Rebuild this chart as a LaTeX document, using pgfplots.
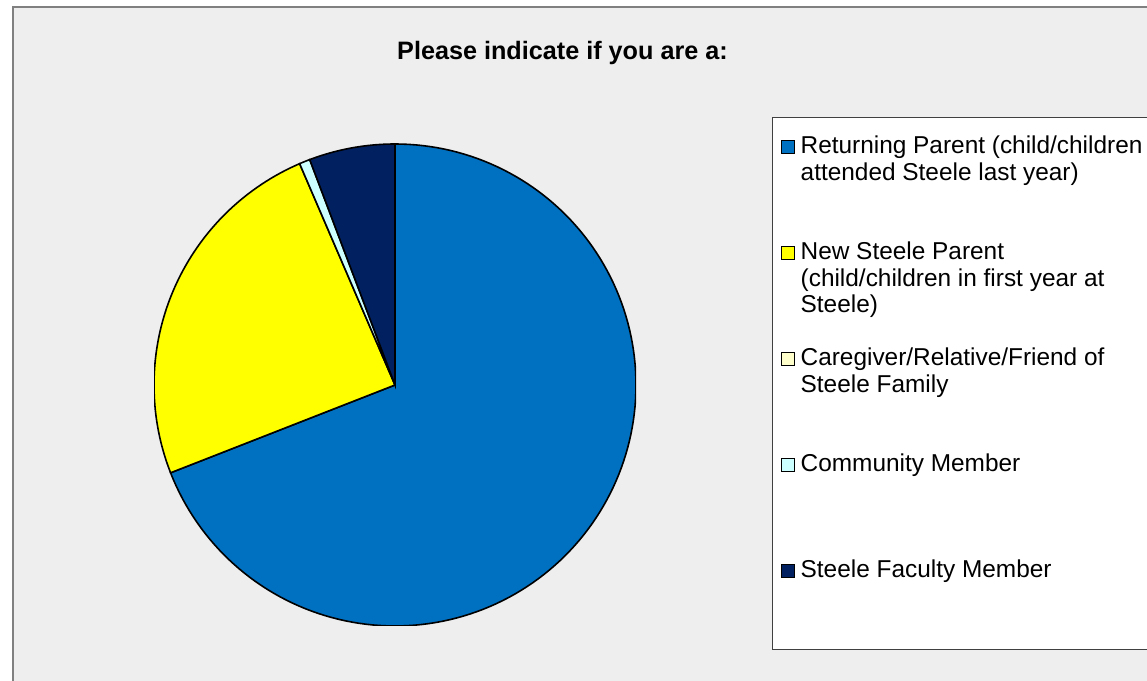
\documentclass[border=0pt]{standalone}
\usepackage{pgfplots}
\pgfplotsset{compat=1.18}
\usepackage{pgfplotstable}
\usepackage{fontspec}
\setmainfont{Liberation Sans}
\definecolor{cRet}{RGB}{0,112,192}
\definecolor{cNew}{RGB}{255,255,0}
\definecolor{cCare}{RGB}{255,255,204}
\definecolor{cComm}{RGB}{204,255,255}
\definecolor{cFac}{RGB}{0,32,96}
\definecolor{bgc}{RGB}{238,238,238}
\definecolor{framec}{RGB}{128,128,128}

\pgfplotstableread{
cat count
1 96
2 34
3 0
4 1
5 8
}\piedata

\newcommand\legtext[1]{\parbox[t]{285pt}{\strut #1}}

\begin{document}
\begin{tikzpicture}[x=0.75pt,y=0.75pt]
\useasboundingbox (0,0) rectangle (1147,681);
\fill[white] (0,0) rectangle (1147,681);
\filldraw[fill=bgc, draw=framec, line width=1.5pt] (13,674) rectangle (1200,-20);
\node[font=\fontsize{18.9}{22}\selectfont\bfseries, anchor=base, inner sep=0pt] at (562.5,621) {Please indicate if you are a:};
\pgfplotstablegetelem{0}{count}\of\piedata \edef\cA{\pgfplotsretval}
\pgfplotstablegetelem{1}{count}\of\piedata \edef\cB{\pgfplotsretval}
\pgfplotstablegetelem{2}{count}\of\piedata \edef\cC{\pgfplotsretval}
\pgfplotstablegetelem{3}{count}\of\piedata \edef\cD{\pgfplotsretval}
\pgfplotstablegetelem{4}{count}\of\piedata \edef\cE{\pgfplotsretval}
\pgfmathsetmacro\tot{\cA+\cB+\cC+\cD+\cE}
\pgfmathsetmacro\aA{90}
\pgfmathsetmacro\aB{\aA-360*(\cA/\tot)}
\pgfmathsetmacro\aC{\aB-360*(\cB/\tot)}
\pgfmathsetmacro\aD{\aC-360*(\cC/\tot)}
\pgfmathsetmacro\aE{\aD-360*(\cD/\tot)}
\pgfmathsetmacro\aF{\aE-360*(\cE/\tot)}
\begin{axis}[
  at={(296.25pt,222pt)}, anchor=center,
  scale only axis, width=361.5pt, height=361.5pt,
  hide axis, xmin=-1, xmax=1, ymin=-1, ymax=1,
  legend image code/.code={\path (0pt,-2.3pt); \draw[#1, draw=black, line width=0.7pt] (0.4pt,0.3pt) rectangle (9.9pt,9.8pt);},
  legend style={at={(1.2822,1.056)}, anchor=north west, draw=black!75, line width=0.75pt, fill=white,
    inner xsep=6pt, inner ysep=13pt, row sep=0pt, column sep=4.5pt,
    font=\fontsize{18.3}{20}\selectfont,
    nodes={inner sep=0pt, anchor=base west},
    cells={anchor=base west}},
]
\addplot[fill=cRet, draw=black, line width=1.2pt, domain=\aB:\aA, samples=150, forget plot] ({cos(x)},{sin(x)}) -- (0,0) -- cycle;
\addplot[fill=cNew, draw=black, line width=1.2pt, domain=\aC:\aB, samples=80, forget plot] ({cos(x)},{sin(x)}) -- (0,0) -- cycle;
\addplot[fill=cComm, draw=black, line width=1.2pt, domain=\aE:\aD, samples=10, forget plot] ({cos(x)},{sin(x)}) -- (0,0) -- cycle;
\addplot[fill=cFac, draw=black, line width=1.2pt, domain=\aF:\aE, samples=30, forget plot] ({cos(x)},{sin(x)}) -- (0,0) -- cycle;
\addlegendimage{fill=cRet}
\addlegendentry[text depth=65.5pt]{\legtext{Returning Parent (child/children\\attended Steele last year)}}
\addlegendimage{fill=cNew}
\addlegendentry[text depth=65.5pt]{\legtext{New Steele Parent\\(child/children in first year at\\Steele)}}
\addlegendimage{fill=cCare}
\addlegendentry[text depth=65.5pt]{\legtext{Caregiver/Relative/Friend of\\Steele Family}}
\addlegendimage{fill=cComm}
\addlegendentry[text depth=65.5pt]{\legtext{Community Member}}
\addlegendimage{fill=cFac}
\addlegendentry[text depth=41pt]{\legtext{Steele Faculty Member}}
\end{axis}
\end{tikzpicture}
\end{document}
